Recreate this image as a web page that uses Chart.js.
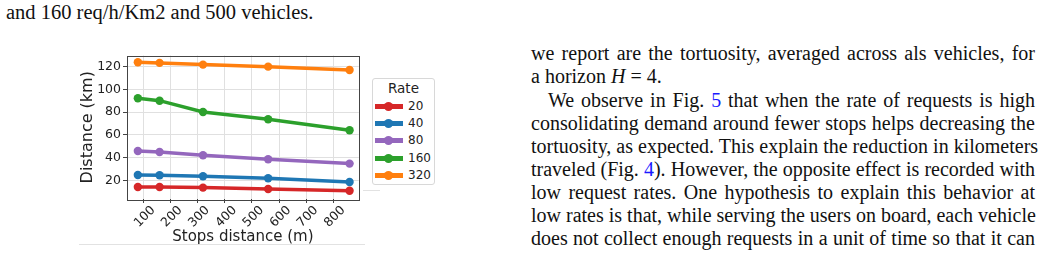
<!DOCTYPE html>
<html>
<head>
<meta charset="utf-8">
<script src="https://cdn.jsdelivr.net/npm/chart.js@4.4.1/dist/chart.umd.min.js"></script>
<style>
  body { margin: 0; width: 1041px; height: 259px; background: #fff; position: relative; overflow: hidden;
         font-family: "Liberation Serif", "Times New Roman", serif; color: #111; }
  .txt { position: absolute; font-size: 20.5px; line-height: 23.15px; white-space: nowrap; }
  #col { position: absolute; left: 531px; top: 42.2px; width: 504px; font-size: 20px; line-height: 23.15px; }
  #col div { white-space: nowrap; text-align: justify; text-align-last: justify; }
  #col div.last { text-align-last: left; }
  #col div.ind { padding-left: 17px; }
  a { color: #1a1aff; text-decoration: none; }
  #plot { position: absolute; left: 70px; top: 45px; width: 293px; height: 205px; }
  #legend { position: absolute; left: 372px; top: 78px; width: 63px; height: 107px; border: 1px solid #d8d8d8;
            border-radius: 3px; font-family: "DejaVu Sans", sans-serif; font-size: 12px; color: #222; box-sizing: border-box; }
  #legend .title { text-align: center; font-size: 13.5px; margin-top: 1px; height: 18px; }
  #legend .row { position: relative; height: 17.2px; }
  #legend .ln { position: absolute; left: 2px; top: 6px; width: 28px; height: 5px; }
  #legend .dot { position: absolute; left: 11px; top: 4px; width: 9px; height: 9px; border-radius: 50%; }
  #legend .lb { position: absolute; left: 35px; top: 1px; }
  .edge { position: absolute; height: 1px; background: #e2e2e2; }
</style>
</head>
<body>
<div class="txt" style="left:6px; top:1.4px;">and 160 req/h/Km2 and 500 vehicles.</div>

<div id="col">
  <div>we report are the tortuosity, averaged across als vehicles, for</div>
  <div class="last">a horizon <i>H</i> = 4.</div>
  <div class="ind">We observe in Fig. <a>5</a> that when the rate of requests is high</div>
  <div>consolidating demand around fewer stops helps decreasing the</div>
  <div>tortuosity, as expected. This explain the reduction in kilometers</div>
  <div>traveled (Fig. <a>4</a>). However, the opposite effect is recorded with</div>
  <div>low request rates. One hypothesis to explain this behavior at</div>
  <div>low rates is that, while serving the users on board, each vehicle</div>
  <div>does not collect enough requests in a unit of time so that it can</div>
</div>

<div class="edge" style="left:79px; top:244px; width:286px;"></div>
<div class="edge" style="left:363px; top:190px; width:17px;"></div>

<div id="plot"><canvas id="c"></canvas></div>
<div id="legend"></div>

<script>
// stops distance (m) on x, travelled distance (km) per request rate
const stops = [80, 160, 320, 560, 860];
const rates = ['20', '40', '80', '160', '320'];
const dist20 = [14.3, 14.3, 13.7, 12.5, 11.0];
const dist40 = [24.8, 24.6, 23.7, 21.9, 18.7];
const dist80 = [45.9, 45.0, 42.1, 38.6, 34.8];
const dist160 = [92.2, 90.1, 80.2, 73.8, 64.1];
const dist320 = [123.9, 123.3, 121.8, 120.0, 117.1];
const colors = ['#d62728', '#1f77b4', '#9467bd', '#2ca02c', '#ff7f0e'];
const xTicks = [100, 200, 300, 400, 500, 600, 700, 800];
const yTicks = [20, 40, 60, 80, 100, 120];

const series = [dist20, dist40, dist80, dist160, dist320];
const tickFont = { family: 'DejaVu Sans', size: 12.5 };

const frame = {
  id: 'frame',
  afterDraw(chart) {
    const { ctx, chartArea: a } = chart;
    ctx.save();
    ctx.strokeStyle = '#444';
    ctx.lineWidth = 1;
    ctx.strokeRect(Math.round(a.left) + 0.5, Math.round(a.top) + 0.5,
      Math.round(a.right - a.left), Math.round(a.bottom - a.top));
    ctx.restore();
  }
};

new Chart(document.getElementById('c'), {
  type: 'line',
  data: {
    datasets: series.map((vals, i) => ({
      label: rates[i],
      data: vals.map((v, j) => ({ x: stops[j], y: v })),
      borderColor: colors[i],
      backgroundColor: colors[i],
      pointBackgroundColor: colors[i],
      borderWidth: 3.5,
      pointRadius: 4.2,
      pointBorderWidth: 0,
      tension: 0,
      clip: false
    }))
  },
  options: {
    responsive: true,
    maintainAspectRatio: false,
    animation: false,
    layout: { padding: { left: 0, right: 0, top: 10.5, bottom: 0 } },
    plugins: { legend: { display: false }, tooltip: { enabled: false } },
    scales: {
      x: {
        type: 'linear',
        min: 40,
        max: 894,
        afterBuildTicks: s => { s.ticks = xTicks.map(v => ({ value: v })); },
        afterFit: s => { s.height = 51; },
        grid: { color: '#e0e0e0', tickColor: '#444', tickLength: 4 },
        border: { display: false },
        ticks: { font: tickFont, color: '#222', minRotation: 45, maxRotation: 45, padding: 0, labelOffset: 10 },
        title: { display: true, text: 'Stops distance (m)', font: { family: 'DejaVu Sans', size: 15 }, color: '#222',
                 padding: { top: 0, bottom: 4 } }
      },
      y: {
        min: 3.7,
        max: 129.8,
        afterBuildTicks: s => { s.ticks = yTicks.map(v => ({ value: v })); },
        afterFit: s => { s.width = 57; },
        grid: { color: '#e0e0e0', tickColor: '#444', tickLength: 4 },
        border: { display: false },
        ticks: { font: tickFont, color: '#222', padding: 2 },
        title: { display: true, text: 'Distance (km)', font: { family: 'DejaVu Sans', size: 16 }, color: '#222',
                 padding: { top: 8, bottom: 0 } }
      }
    }
  },
  plugins: [frame]
});

const leg = document.getElementById('legend');
leg.innerHTML = '<div class="title">Rate</div>' + rates.map((r, i) =>
  `<div class="row"><span class="ln" style="background:${colors[i]}"></span>` +
  `<span class="dot" style="background:${colors[i]}"></span><span class="lb">${r}</span></div>`).join('');
</script>
</body>
</html>
